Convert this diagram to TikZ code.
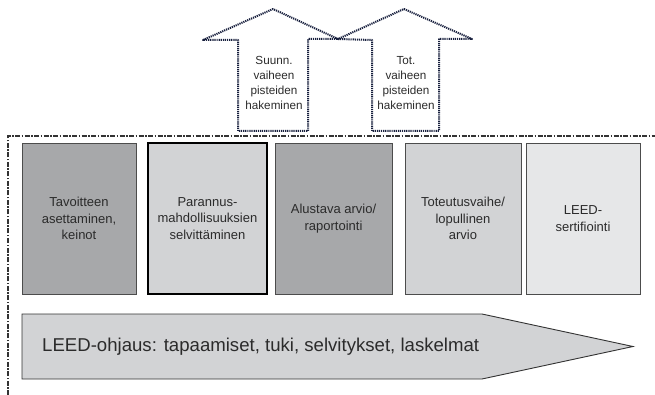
\documentclass[tikz,border=0pt]{standalone}
\usepackage{fontspec}
\setmainfont{Liberation Sans}
\usetikzlibrary{positioning}

\definecolor{darkbox}{HTML}{A7A8AA}
\definecolor{midbox}{HTML}{D2D3D5}
\definecolor{lightbox}{HTML}{E6E7E8}
\definecolor{dotblue}{HTML}{18203E}
\definecolor{textgray}{HTML}{2B2B2B}

\begin{document}
\begin{tikzpicture}[x=1pt,y=-1pt,
    phase/.style={draw=black!70, line width=0.9pt, align=center, text=textgray,
        minimum height=151pt, inner sep=2pt,
        font=\fontsize{13}{16.5}\selectfont},
    goal/.style={draw=dotblue, line width=2pt, dash pattern=on 1.2pt off 0.9pt,
        line join=round},
    goaltext/.style={align=center, text=textgray, inner sep=0pt,
        font=\fontsize{11.7}{14.7}\selectfont},
    frame/.style={draw=black!80, line width=1.4pt,
        dash pattern=on 5pt off 1.5pt on 1.5pt off 1.5pt}]
    \useasboundingbox (0,0) rectangle (655,395);

    % dash-dot frame, open to the right and below
    \draw[frame] (8,395) -- (8,136) -- (655,136);

    % phases
    \node[phase, fill=darkbox, minimum width=114pt] (tavoite) at (79,218.5)
        {Tavoitteen\\asettaminen,\\keinot};
    \node[phase, fill=midbox, draw=black, line width=1.3pt, minimum width=119pt] (parannus) at (207.5,218.5)
        {Parannus-\\mahdollisuuksien\\selvittäminen};
    \node[phase, fill=darkbox, minimum width=117pt] (alustava) at (333.5,218.5)
        {Alustava arvio/\\raportointi};
    \node[phase, fill=midbox, minimum width=116pt] (toteutus) at (463,218.5)
        {Toteutusvaihe/\\lopullinen\\arvio};
    \node[phase, fill=lightbox, minimum width=114pt] (sertifiointi) at (583,218.5)
        {LEED-\\sertifiointi};

    % LEED guidance arrow
    \draw[draw=black!80, line width=0.9pt, fill=midbox]
        (22,314) -- (482,314) -- (633,346.5) -- (482,379) -- (22,379) -- cycle;
    \node[anchor=west, text=textgray, inner sep=0pt,
        font=\fontsize{18.6}{22}\selectfont] (ohjaus) at (42,347)
        {LEED-ohjaus: tapaamiset, tuki, selvitykset, laskelmat};

    % point arrows
    \draw[goal] (238,131) -- (238,40) -- (203,40) -- (273,9) -- (338,39)
        -- (308,39) -- (308,131) -- cycle;
    \draw[goal] (372,131) -- (372,40) -- (338,39) -- (404,9) -- (472,39)
        -- (439,39) -- (439,131) -- cycle;
    \node[goaltext] (suunn) at (274,83) {Suunn.\\vaiheen\\pisteiden\\hakeminen};
    \node[goaltext] (tot) at (406,83) {Tot.\\vaiheen\\pisteiden\\hakeminen};
\end{tikzpicture}
\end{document}
